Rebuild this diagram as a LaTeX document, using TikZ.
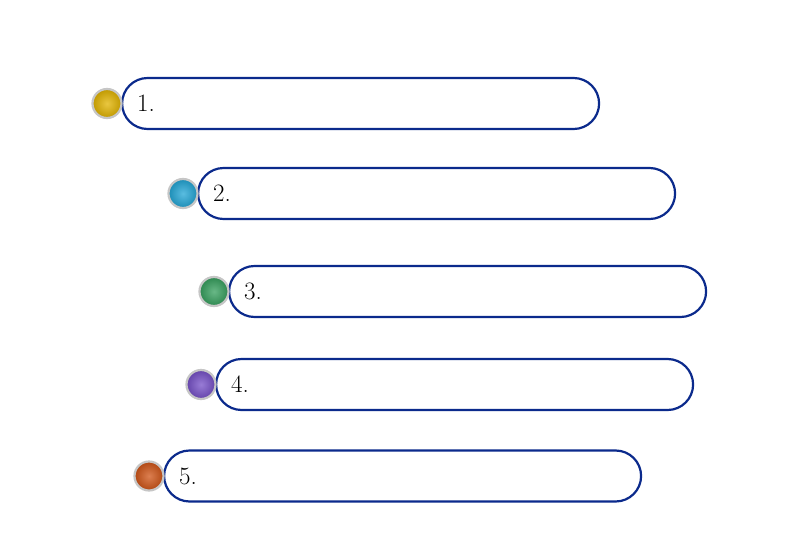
\documentclass[tikz,border=0pt]{standalone}
\usetikzlibrary{shapes.misc}

\definecolor{barline}{HTML}{0B2A8C}
\definecolor{ballyellow}{HTML}{E2B400}
\definecolor{ballcyan}{HTML}{22A6D6}
\definecolor{ballgreen}{HTML}{36A05E}
\definecolor{ballpurple}{HTML}{7650C8}
\definecolor{ballorange}{HTML}{D05416}

\begin{document}
\begin{tikzpicture}[
    x=1pt,y=-1pt,
    bar/.style={rounded rectangle,draw=barline,line width=2.2pt,fill=white,
        minimum width=477pt,minimum height=51pt,inner sep=0pt},
    ball/.style={circle,draw=gray!45,line width=2.2pt,minimum size=29pt,inner sep=0pt},
    num/.style={anchor=west,inner sep=0pt,font=\fontsize{25}{28}\selectfont},
]
\useasboundingbox[fill=white] (0,0) rectangle (800,546);

% bars with their coloured balls
\foreach \i/\x/\y/\c in {1/121/103.5/ballyellow,2/197/193.5/ballcyan,
    3/228/291.5/ballgreen,4/215/384.5/ballpurple,5/163/476/ballorange}{
    \node[bar,anchor=west] (bar\i) at (\x,\y) {};
    \node[ball,inner color=\c!75!white,outer color=\c!85!black] (ball\i)
        at ([xshift=-14pt]bar\i.west) {};
    \node[num] (num\i) at ([xshift=16pt]bar\i.west) {\i.};
}
\end{tikzpicture}
\end{document}
